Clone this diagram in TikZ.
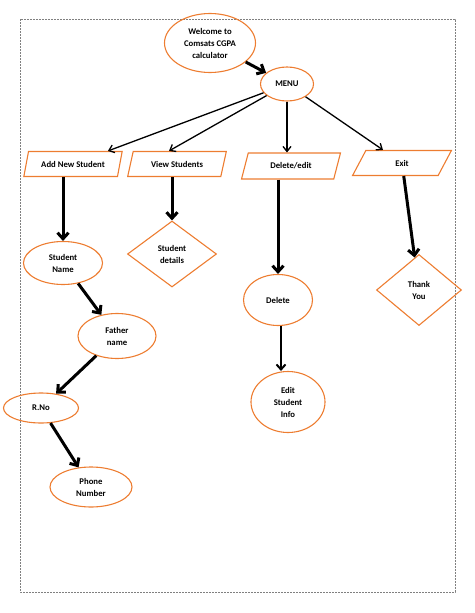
\documentclass[tikz,border=0pt]{standalone}
\usepackage{fontspec}
\setmainfont{Carlito}
\usetikzlibrary{arrows.meta,shapes.geometric}

\definecolor{office}{RGB}{237,125,49}

\begin{document}
\begin{tikzpicture}[
  x=1pt, y=-1pt,
  every node/.style={font=\bfseries\fontsize{8.7}{12}\selectfont, align=center},
  oval/.style={ellipse, draw=office, line width=1.1pt, inner sep=0pt},
  io/.style={trapezium, trapezium left angle=74, trapezium right angle=106,
    trapezium stretches=true, draw=office, line width=1.1pt,
    minimum width=99pt, minimum height=25pt},
  choice/.style={diamond, draw=office, line width=1.1pt, inner sep=0pt},
  thin arrow/.style={-{Straight Barb[length=5pt,width=8pt]}, line width=1.3pt},
  thick arrow/.style={-{Straight Barb[length=6pt,width=11pt]}, line width=3pt}
  ]
\useasboundingbox (0,0) rectangle (474,613);
\draw [gray, line width=1pt, dash pattern=on 2pt off 1pt] (20,19) rectangle (455,592);

\node [oval, minimum width=91pt, minimum height=59pt] (welcome) at (210,43) {Welcome to\\Comsats CGPA\\calculator};
\node [oval, minimum width=53pt, minimum height=34pt] (menu) at (287,84) {MENU};

\node [io] (addnew) at (73,164) {Add New Student};
\node [io] (view) at (177,164) {View Students};
\node [io, minimum height=26pt] (dedit) at (291,166) {Delete/edit};
\node [io] (exit) at (402,163) {Exit};

\node [oval, minimum width=79pt, minimum height=43pt] (sname) at (63,263) {Student\\Name};
\node [choice, minimum width=89pt, minimum height=66pt] (sdetails) at (172,254) {Student\\details};
\node [oval, minimum width=78pt, minimum height=45pt] (fname) at (117,336) {Father\\name};
\node [oval, minimum width=75pt, minimum height=30pt] (rno) at (41,408) {R.No};
\node [oval, minimum width=82pt, minimum height=40pt] (phone) at (91,487) {Phone\\Number};
\node [oval, minimum width=69pt, minimum height=51pt] (del) at (278,300) {Delete};
\node [oval, minimum width=74pt, minimum height=61pt] (editinfo) at (288,402) {Edit\\Student\\Info};
\node [choice, minimum width=85pt, minimum height=71pt] (thanks) at (419,290) {Thank\\You};

\draw [thick arrow] (welcome) -- (menu);
\draw [thin arrow] (menu) -- (addnew);
\draw [thin arrow] (menu) -- ([xshift=-8pt]view.north);
\draw [thin arrow] (menu) -- (menu.south |- dedit.north);
\draw [thin arrow] (menu) -- (exit);

\draw [thick arrow] (addnew.south -| sname) -- (sname);
\draw [thick arrow] (view.south -| sdetails) -- (sdetails);
\draw [thick arrow] (del.north |- dedit.south) -- (del);
\draw [thick arrow] (exit) -- (thanks);

\draw [thick arrow] (sname) -- (fname);
\draw [thick arrow] (fname) -- (rno);
\draw [thick arrow] (rno) -- (phone);
\draw [-{Straight Barb[length=5pt,width=9pt]}, line width=2pt] ([xshift=3pt]del.south) -- ([xshift=3pt]del.south |- editinfo.north);
\end{tikzpicture}
\end{document}
